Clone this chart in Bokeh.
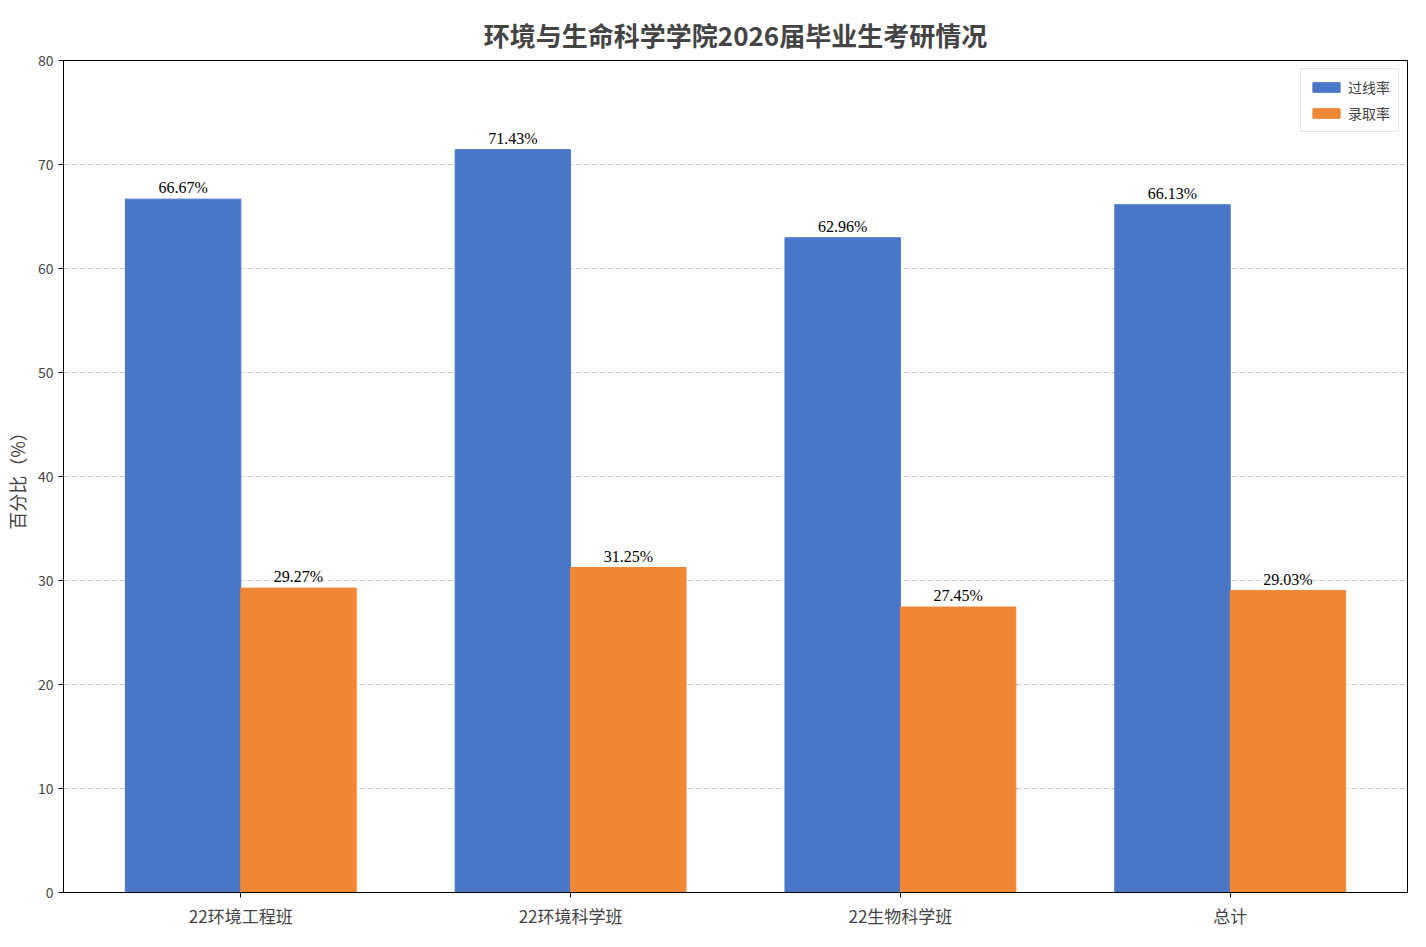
from bokeh.plotting import figure
from bokeh.models import ColumnDataSource, FixedTicker, Legend, LegendItem, Range1d
from bokeh.embed import file_html
from bokeh.resources import INLINE

categories = ["22环境工程班", "22环境科学班", "22生物科学班", "总计"]
pass_rate = [66.67, 71.43, 62.96, 66.13]
admit_rate = [29.27, 31.25, 27.45, 29.03]
FONT = "Noto Sans CJK SC"
BLUE = "#4a76c8"
ORANGE = "#f08735"
w = 0.35

idx = list(range(len(categories)))
s1 = ColumnDataSource(dict(x=[i - w/2 for i in idx], y=pass_rate, t=[f"{v:.2f}%" for v in pass_rate]))
s2 = ColumnDataSource(dict(x=[i + w/2 for i in idx], y=admit_rate, t=[f"{v:.2f}%" for v in admit_rate]))

p = figure(width=1410, height=930, output_backend="svg", toolbar_location=None,
           x_range=Range1d(-0.5375, 3.5375), y_range=Range1d(0, 80),
           min_border_left=60, min_border_right=3, min_border_top=60, min_border_bottom=34)
p.title.text = "环境与生命科学学院2026届毕业生考研情况"
p.title.align = "center"
p.title.text_font = FONT
p.title.text_font_size = "26px"
p.title.text_font_style = "bold"
p.title.offset = 0
p.title.standoff = 16

r1 = p.vbar(x="x", top="y", width=w, source=s1, color=BLUE)
r2 = p.vbar(x="x", top="y", width=w, source=s2, color=ORANGE)
for s in (s1, s2):
    p.text(x="x", y="y", text="t", source=s, text_align="center", text_baseline="bottom",
           y_offset=-3, text_font=FONT, text_font_size="16px", text_color="black")

p.xaxis.ticker = FixedTicker(ticks=idx)
p.xaxis.major_label_overrides = {i: c for i, c in enumerate(categories)}
p.yaxis.ticker = FixedTicker(ticks=list(range(0, 81, 10)))
p.yaxis.axis_label = "百分比（%）"
for ax in (p.xaxis, p.yaxis):
    ax.major_label_text_font = FONT
    ax.axis_label_text_font = FONT
    ax.axis_label_text_font_style = "normal"
    ax.minor_tick_line_color = None
    ax.major_tick_in = 0
    ax.major_tick_out = 5
    ax.axis_line_color = "black"
p.xaxis.major_label_text_font_size = "17px"
p.yaxis.major_label_text_font_size = "14px"
p.yaxis.axis_label_text_font_size = "18px"
p.xgrid.grid_line_color = None
p.ygrid.grid_line_color = "#c8c8c8"
p.ygrid.grid_line_dash = "5 3"
p.outline_line_color = "black"
p.outline_line_alpha = 1

legend = Legend(items=[LegendItem(label="过线率", renderers=[r1]), LegendItem(label="录取率", renderers=[r2])],
                location="top_right", label_text_font=FONT, label_text_font_size="14px",
                border_line_color="#cccccc", glyph_width=34, glyph_height=12, spacing=6,
                margin=8, padding=8)
p.add_layout(legend)

open("out.html", "w").write(file_html(p, INLINE))
